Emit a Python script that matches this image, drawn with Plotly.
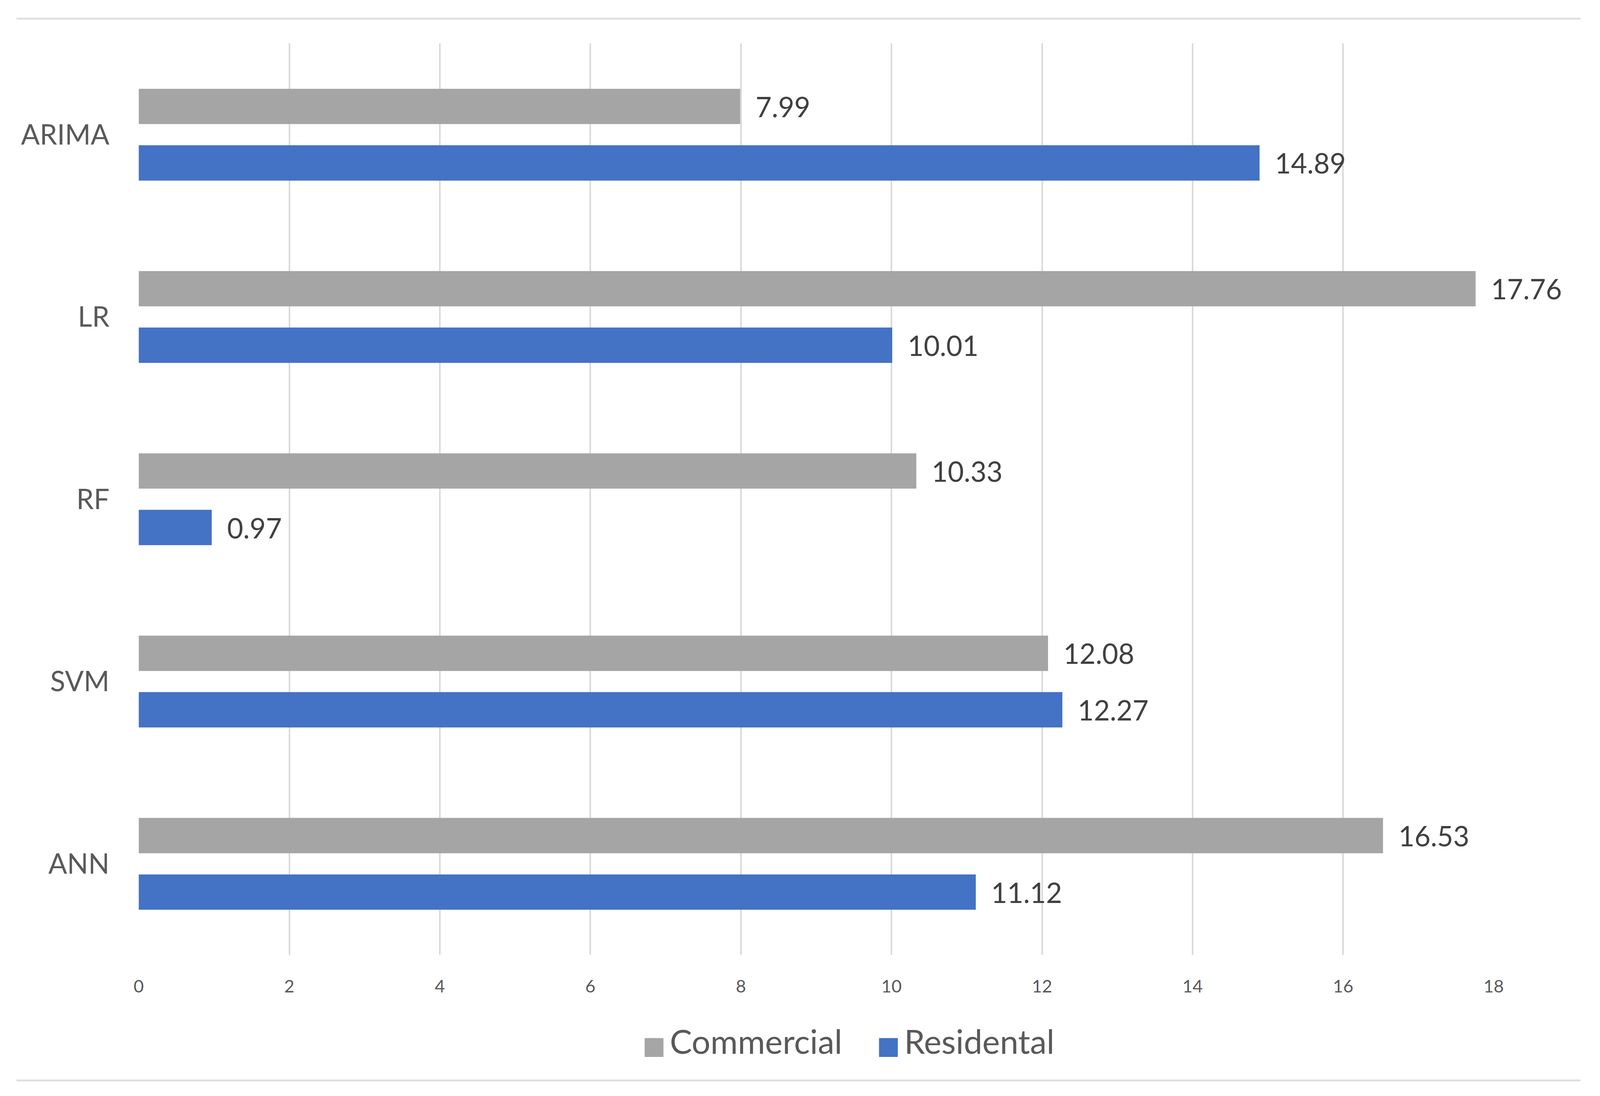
import plotly.graph_objects as go

# ---- data ----
models = ["ARIMA", "LR", "RF", "SVM", "ANN"]
commercial = [7.99, 17.76, 10.33, 12.08, 16.53]
residental = [14.89, 10.01, 0.97, 12.27, 11.12]
series_names = ["Commercial", "Residental"]
x_tick_values = [0, 2, 4, 6, 8, 10, 12, 14, 16, 18]

# ---- style (geometry in fractions of the 4525x2805 reference) ----
RW, RH = 4525, 2805
K = 0.925  # px scale for fonts / strokes
FONT = "Lato"
GRAY = "#A5A5A5"
BLUE = "#4472C4"
TXT = "#595959"
GRID = "#D9D9D9"

def fx(p):
    return p / RW
def fy(p):
    return 1 - p / RH

fig = go.Figure()
for name, vals, col in zip(series_names, [commercial, residental], [GRAY, BLUE]):
    fig.add_trace(go.Bar(
        y=models, x=vals, orientation="h", name=name,
        marker=dict(color=col, line=dict(width=0)),
        texttemplate="\u00a0\u00a0%{x:.2f}", textposition="outside",
        cliponaxis=False, constraintext="none",
        outsidetextfont=dict(family=FONT, size=round(77 * K), color="#404040"),
        showlegend=False, hoverinfo="skip",
    ))
for name, col in zip(series_names, [GRAY, BLUE]):
    fig.add_trace(go.Scatter(
        x=[None], y=[None], mode="markers",
        marker=dict(color="rgba(0,0,0,0)", size=1),
        name=(f"<span style='color:{col};font-size:{round(68 * K)}px;font-family:DejaVu Sans'>\u25A0</span>"
              f"\u2009{name}\u00a0\u00a0"),
        showlegend=True,
    ))

fig.update_layout(
    autosize=True,
    margin=dict(l=0, r=0, t=0, b=0, pad=0),
    paper_bgcolor="white", plot_bgcolor="white",
    barmode="group", bargap=0.38, bargroupgap=0.375,
    font=dict(family=FONT, color=TXT),
    legend=dict(
        orientation="h", x=fx(2405), y=fy(2671),
        xanchor="center", yanchor="middle",
        font=dict(family=FONT, size=round(92 * K), color=TXT),
        itemwidth=30, bgcolor="rgba(0,0,0,0)",
    ),
    xaxis=dict(
        domain=[fx(385), fx(4232)],
        range=[0, 18], tickvals=x_tick_values, showgrid=True,
        gridcolor=GRID, gridwidth=4 * K, zeroline=False, showline=False,
        ticks="", tickfont=dict(family=FONT, size=round(49 * K), color=TXT),
        ticklabelstandoff=50, automargin=False,
    ),
    yaxis=dict(
        domain=[fy(2450), fy(104)],
        type="category", categoryorder="array", categoryarray=models,
        autorange="reversed", showgrid=False, zeroline=False, showline=False,
        ticks="", tickfont=dict(family=FONT, size=round(77 * K), color=TXT),
        ticklabelstandoff=round(80 * K), automargin=False,
    ),
    shapes=[
        dict(type="line", xref="paper", yref="paper",
             x0=fx(38), x1=fx(4479), y0=fy(40), y1=fy(40),
             line=dict(color="#DEDEDE", width=5 * K)),
        dict(type="line", xref="paper", yref="paper",
             x0=fx(38), x1=fx(4479), y0=fy(2773), y1=fy(2773),
             line=dict(color="#DEDEDE", width=5 * K)),
    ],
)

fig.write_html("out.html")
